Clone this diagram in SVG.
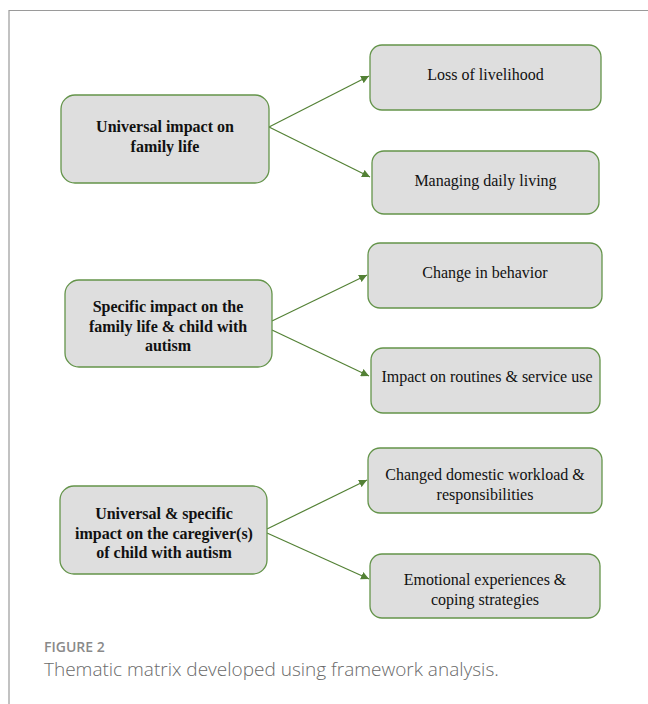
<svg xmlns="http://www.w3.org/2000/svg" width="648" height="704" viewBox="0 0 648 704">
<defs>
<style>
.box{fill:#dedede;stroke:#64944a;stroke-width:1.3}
.lt{font-family:"Liberation Serif","Times New Roman",serif;font-size:16px;font-weight:bold;fill:#111;text-anchor:middle}
.rt{font-family:"Liberation Serif","Times New Roman",serif;font-size:16px;fill:#111;text-anchor:middle}
.con{stroke:#538135;stroke-width:1.2;fill:none;marker-end:url(#ah)}
.cap1{font-family:"Open Sans","Noto Sans",sans-serif;font-size:14px;font-weight:600;fill:#8a8a8a}
.cap2{font-family:"Open Sans","Noto Sans",sans-serif;font-size:19px;font-weight:300;fill:#6a6a6a}
</style>
<marker id="ah" viewBox="0 0 10 10" refX="10" refY="5" markerWidth="8" markerHeight="8" markerUnits="userSpaceOnUse" orient="auto">
<path d="M0,0 L10,5 L0,10 z" fill="#538135"/>
</marker>
</defs>
<rect width="648" height="704" fill="#fff"/>
<path d="M9,704 V10.5 H648" fill="none" stroke="#9a9a9a" stroke-width="1.2"/>

<g id="connectors">
<line class="con" x1="269" y1="127" x2="369" y2="76"/>
<line class="con" x1="269" y1="127" x2="370" y2="177"/>
<line class="con" x1="272" y1="321" x2="367" y2="275"/>
<line class="con" x1="272" y1="330" x2="369" y2="376"/>
<line class="con" x1="267" y1="529" x2="367" y2="480"/>
<line class="con" x1="267" y1="533" x2="369" y2="579"/>
</g>

<g id="n1"><rect class="box" x="61" y="95" width="208" height="88" rx="14"/>
<text class="lt" x="165" y="132">Universal impact on</text>
<text class="lt" x="165" y="151.5">family life</text></g>

<g id="n2"><rect class="box" x="65" y="280" width="207" height="87" rx="14"/>
<text class="lt" x="168" y="312">Specific impact on the</text>
<text class="lt" x="168" y="331.5">family life &amp; child with</text>
<text class="lt" x="168" y="351">autism</text></g>

<g id="n3"><rect class="box" x="60" y="486" width="207" height="88" rx="14"/>
<text class="lt" x="164" y="519">Universal &amp; specific</text>
<text class="lt" x="164" y="538.5">impact on the caregiver(s)</text>
<text class="lt" x="164" y="558">of child with autism</text></g>

<g id="r1"><rect class="box" x="370" y="45" width="231" height="65" rx="12"/>
<text class="rt" x="485.5" y="80">Loss of livelihood</text></g>

<g id="r2"><rect class="box" x="372" y="151" width="227" height="63" rx="12"/>
<text class="rt" x="485.5" y="185.5">Managing daily living</text></g>

<g id="r3"><rect class="box" x="368" y="243" width="234" height="65" rx="12"/>
<text class="rt" x="485" y="277.5">Change in behavior</text></g>

<g id="r4"><rect class="box" x="371" y="348" width="229" height="65" rx="12"/>
<text class="rt" x="487" y="382">Impact on routines &amp; service use</text></g>

<g id="r5"><rect class="box" x="368" y="448" width="234" height="65" rx="12"/>
<text class="rt" x="485" y="480">Changed domestic workload &amp;</text>
<text class="rt" x="485" y="499.5">responsibilities</text></g>

<g id="r6"><rect class="box" x="370" y="554" width="230" height="64" rx="12"/>
<text class="rt" x="485" y="585">Emotional experiences &amp;</text>
<text class="rt" x="485" y="605">coping strategies</text></g>

<text class="cap1" x="44" y="652">FIGURE 2</text>
<text class="cap2" x="44" y="676">Thematic matrix developed using framework analysis.</text>
</svg>
